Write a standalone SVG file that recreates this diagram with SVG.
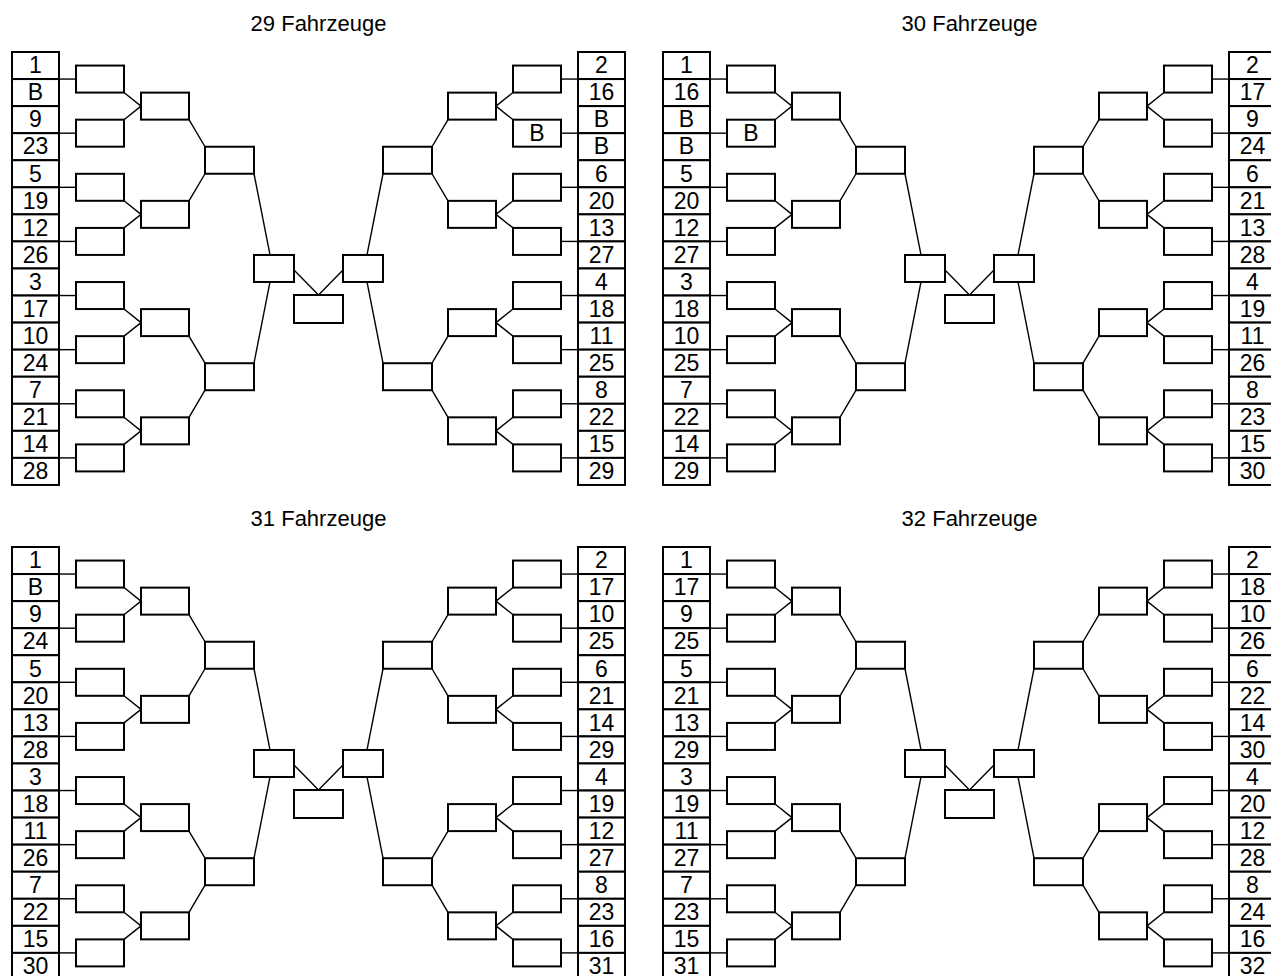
<svg xmlns="http://www.w3.org/2000/svg" width="1271" height="976" viewBox="0 0 1271 976">
<style>
.cell,.box{fill:#fff;stroke:#000;stroke-width:2}
.c{fill:none;stroke:#000;stroke-width:1.4}
text{font-family:"Liberation Sans",Arial,sans-serif;font-size:23px;text-anchor:middle;fill:#000}
.title{font-size:22px}
</style>
<rect x="0" y="0" width="1271" height="976" fill="#fff"/>

<!-- ================= Panel 29 ================= -->
<g id="panel29">
<text id="p29-title" class="title" x="318.5" y="31">29 Fahrzeuge</text>
<g id="p29-connectors">
<path class="c" d="M59 79.06H76"/><path class="c" d="M59 133.18H76"/><path class="c" d="M59 187.3H76"/><path class="c" d="M59 241.42H76"/>
<path class="c" d="M59 295.54H76"/><path class="c" d="M59 349.66H76"/><path class="c" d="M59 403.78H76"/><path class="c" d="M59 457.9H76"/>
<path class="c" d="M578 79.06H561"/><path class="c" d="M578 133.18H561"/><path class="c" d="M578 187.3H561"/><path class="c" d="M578 241.42H561"/>
<path class="c" d="M578 295.54H561"/><path class="c" d="M578 349.66H561"/><path class="c" d="M578 403.78H561"/><path class="c" d="M578 457.9H561"/>
<path class="c" d="M124 92.56L141 106.12"/><path class="c" d="M124 119.68L141 106.12"/>
<path class="c" d="M124 200.8L141 214.36"/><path class="c" d="M124 227.92L141 214.36"/>
<path class="c" d="M124 309.04L141 322.6"/><path class="c" d="M124 336.16L141 322.6"/>
<path class="c" d="M124 417.28L141 430.84"/><path class="c" d="M124 444.4L141 430.84"/>
<path class="c" d="M513 92.56L496 106.12"/><path class="c" d="M513 119.68L496 106.12"/>
<path class="c" d="M513 200.8L496 214.36"/><path class="c" d="M513 227.92L496 214.36"/>
<path class="c" d="M513 309.04L496 322.6"/><path class="c" d="M513 336.16L496 322.6"/>
<path class="c" d="M513 417.28L496 430.84"/><path class="c" d="M513 444.4L496 430.84"/>
<path class="c" d="M189 119.62L205 146.74"/><path class="c" d="M189 200.86L205 173.74"/>
<path class="c" d="M189 336.1L205 363.22"/><path class="c" d="M189 417.34L205 390.22"/>
<path class="c" d="M448 119.62L432 146.74"/><path class="c" d="M448 200.86L432 173.74"/>
<path class="c" d="M448 336.1L432 363.22"/><path class="c" d="M448 417.34L432 390.22"/>
<path class="c" d="M254 173.74L270 254.98"/><path class="c" d="M254 363.22L270 281.98"/>
<path class="c" d="M383 173.74L367 254.98"/><path class="c" d="M383 363.22L367 281.98"/>
<path class="c" d="M294 270L318.5 295"/><path class="c" d="M343 270L318.5 295"/>
</g>
<g id="p29-sL01"><rect class="cell" x="12" y="52" width="47" height="27.06"/><text x="35.5" y="73.3">1</text></g>
<g id="p29-sL02"><rect class="cell" x="12" y="79.06" width="47" height="27.06"/><text x="35.5" y="100.36">B</text></g>
<g id="p29-sL03"><rect class="cell" x="12" y="106.12" width="47" height="27.06"/><text x="35.5" y="127.42">9</text></g>
<g id="p29-sL04"><rect class="cell" x="12" y="133.18" width="47" height="27.06"/><text x="35.5" y="154.48">23</text></g>
<g id="p29-sL05"><rect class="cell" x="12" y="160.24" width="47" height="27.06"/><text x="35.5" y="181.54">5</text></g>
<g id="p29-sL06"><rect class="cell" x="12" y="187.3" width="47" height="27.06"/><text x="35.5" y="208.6">19</text></g>
<g id="p29-sL07"><rect class="cell" x="12" y="214.36" width="47" height="27.06"/><text x="35.5" y="235.66">12</text></g>
<g id="p29-sL08"><rect class="cell" x="12" y="241.42" width="47" height="27.06"/><text x="35.5" y="262.72">26</text></g>
<g id="p29-sL09"><rect class="cell" x="12" y="268.48" width="47" height="27.06"/><text x="35.5" y="289.78">3</text></g>
<g id="p29-sL10"><rect class="cell" x="12" y="295.54" width="47" height="27.06"/><text x="35.5" y="316.84">17</text></g>
<g id="p29-sL11"><rect class="cell" x="12" y="322.6" width="47" height="27.06"/><text x="35.5" y="343.9">10</text></g>
<g id="p29-sL12"><rect class="cell" x="12" y="349.66" width="47" height="27.06"/><text x="35.5" y="370.96">24</text></g>
<g id="p29-sL13"><rect class="cell" x="12" y="376.72" width="47" height="27.06"/><text x="35.5" y="398.02">7</text></g>
<g id="p29-sL14"><rect class="cell" x="12" y="403.78" width="47" height="27.06"/><text x="35.5" y="425.08">21</text></g>
<g id="p29-sL15"><rect class="cell" x="12" y="430.84" width="47" height="27.06"/><text x="35.5" y="452.14">14</text></g>
<g id="p29-sL16"><rect class="cell" x="12" y="457.9" width="47" height="27.06"/><text x="35.5" y="479.2">28</text></g>
<g id="p29-sR01"><rect class="cell" x="578" y="52" width="47" height="27.06"/><text x="601.5" y="73.3">2</text></g>
<g id="p29-sR02"><rect class="cell" x="578" y="79.06" width="47" height="27.06"/><text x="601.5" y="100.36">16</text></g>
<g id="p29-sR03"><rect class="cell" x="578" y="106.12" width="47" height="27.06"/><text x="601.5" y="127.42">B</text></g>
<g id="p29-sR04"><rect class="cell" x="578" y="133.18" width="47" height="27.06"/><text x="601.5" y="154.48">B</text></g>
<g id="p29-sR05"><rect class="cell" x="578" y="160.24" width="47" height="27.06"/><text x="601.5" y="181.54">6</text></g>
<g id="p29-sR06"><rect class="cell" x="578" y="187.3" width="47" height="27.06"/><text x="601.5" y="208.6">20</text></g>
<g id="p29-sR07"><rect class="cell" x="578" y="214.36" width="47" height="27.06"/><text x="601.5" y="235.66">13</text></g>
<g id="p29-sR08"><rect class="cell" x="578" y="241.42" width="47" height="27.06"/><text x="601.5" y="262.72">27</text></g>
<g id="p29-sR09"><rect class="cell" x="578" y="268.48" width="47" height="27.06"/><text x="601.5" y="289.78">4</text></g>
<g id="p29-sR10"><rect class="cell" x="578" y="295.54" width="47" height="27.06"/><text x="601.5" y="316.84">18</text></g>
<g id="p29-sR11"><rect class="cell" x="578" y="322.6" width="47" height="27.06"/><text x="601.5" y="343.9">11</text></g>
<g id="p29-sR12"><rect class="cell" x="578" y="349.66" width="47" height="27.06"/><text x="601.5" y="370.96">25</text></g>
<g id="p29-sR13"><rect class="cell" x="578" y="376.72" width="47" height="27.06"/><text x="601.5" y="398.02">8</text></g>
<g id="p29-sR14"><rect class="cell" x="578" y="403.78" width="47" height="27.06"/><text x="601.5" y="425.08">22</text></g>
<g id="p29-sR15"><rect class="cell" x="578" y="430.84" width="47" height="27.06"/><text x="601.5" y="452.14">15</text></g>
<g id="p29-sR16"><rect class="cell" x="578" y="457.9" width="47" height="27.06"/><text x="601.5" y="479.2">29</text></g>
<g id="p29-r1L1"><rect class="box" x="76" y="65.56" width="48" height="27"/></g>
<g id="p29-r1L2"><rect class="box" x="76" y="119.68" width="48" height="27"/></g>
<g id="p29-r1L3"><rect class="box" x="76" y="173.8" width="48" height="27"/></g>
<g id="p29-r1L4"><rect class="box" x="76" y="227.92" width="48" height="27"/></g>
<g id="p29-r1L5"><rect class="box" x="76" y="282.04" width="48" height="27"/></g>
<g id="p29-r1L6"><rect class="box" x="76" y="336.16" width="48" height="27"/></g>
<g id="p29-r1L7"><rect class="box" x="76" y="390.28" width="48" height="27"/></g>
<g id="p29-r1L8"><rect class="box" x="76" y="444.4" width="48" height="27"/></g>
<g id="p29-r1R1"><rect class="box" x="513" y="65.56" width="48" height="27"/></g>
<g id="p29-r1R2"><rect class="box" x="513" y="119.68" width="48" height="27"/><text x="537" y="141">B</text></g>
<g id="p29-r1R3"><rect class="box" x="513" y="173.8" width="48" height="27"/></g>
<g id="p29-r1R4"><rect class="box" x="513" y="227.92" width="48" height="27"/></g>
<g id="p29-r1R5"><rect class="box" x="513" y="282.04" width="48" height="27"/></g>
<g id="p29-r1R6"><rect class="box" x="513" y="336.16" width="48" height="27"/></g>
<g id="p29-r1R7"><rect class="box" x="513" y="390.28" width="48" height="27"/></g>
<g id="p29-r1R8"><rect class="box" x="513" y="444.4" width="48" height="27"/></g>
<g id="p29-r2L1"><rect class="box" x="141" y="92.62" width="48" height="27"/></g>
<g id="p29-r2L2"><rect class="box" x="141" y="200.86" width="48" height="27"/></g>
<g id="p29-r2L3"><rect class="box" x="141" y="309.1" width="48" height="27"/></g>
<g id="p29-r2L4"><rect class="box" x="141" y="417.34" width="48" height="27"/></g>
<g id="p29-r2R1"><rect class="box" x="448" y="92.62" width="48" height="27"/></g>
<g id="p29-r2R2"><rect class="box" x="448" y="200.86" width="48" height="27"/></g>
<g id="p29-r2R3"><rect class="box" x="448" y="309.1" width="48" height="27"/></g>
<g id="p29-r2R4"><rect class="box" x="448" y="417.34" width="48" height="27"/></g>
<g id="p29-r3L1"><rect class="box" x="205" y="146.74" width="49" height="27"/></g>
<g id="p29-r3L2"><rect class="box" x="205" y="363.22" width="49" height="27"/></g>
<g id="p29-r3R1"><rect class="box" x="383" y="146.74" width="49" height="27"/></g>
<g id="p29-r3R2"><rect class="box" x="383" y="363.22" width="49" height="27"/></g>
<g id="p29-semiL"><rect class="box" x="254" y="254.98" width="40" height="27"/></g>
<g id="p29-semiR"><rect class="box" x="343" y="254.98" width="40" height="27"/></g>
<g id="p29-final"><rect class="box" x="294" y="295" width="49" height="28"/></g>
</g>

<!-- ================= Panel 30 ================= -->
<g id="panel30" transform="translate(651,0)">
<text id="p30-title" class="title" x="318.5" y="31">30 Fahrzeuge</text>
<g id="p30-connectors">
<path class="c" d="M59 79.06H76"/><path class="c" d="M59 133.18H76"/><path class="c" d="M59 187.3H76"/><path class="c" d="M59 241.42H76"/>
<path class="c" d="M59 295.54H76"/><path class="c" d="M59 349.66H76"/><path class="c" d="M59 403.78H76"/><path class="c" d="M59 457.9H76"/>
<path class="c" d="M578 79.06H561"/><path class="c" d="M578 133.18H561"/><path class="c" d="M578 187.3H561"/><path class="c" d="M578 241.42H561"/>
<path class="c" d="M578 295.54H561"/><path class="c" d="M578 349.66H561"/><path class="c" d="M578 403.78H561"/><path class="c" d="M578 457.9H561"/>
<path class="c" d="M124 92.56L141 106.12"/><path class="c" d="M124 119.68L141 106.12"/>
<path class="c" d="M124 200.8L141 214.36"/><path class="c" d="M124 227.92L141 214.36"/>
<path class="c" d="M124 309.04L141 322.6"/><path class="c" d="M124 336.16L141 322.6"/>
<path class="c" d="M124 417.28L141 430.84"/><path class="c" d="M124 444.4L141 430.84"/>
<path class="c" d="M513 92.56L496 106.12"/><path class="c" d="M513 119.68L496 106.12"/>
<path class="c" d="M513 200.8L496 214.36"/><path class="c" d="M513 227.92L496 214.36"/>
<path class="c" d="M513 309.04L496 322.6"/><path class="c" d="M513 336.16L496 322.6"/>
<path class="c" d="M513 417.28L496 430.84"/><path class="c" d="M513 444.4L496 430.84"/>
<path class="c" d="M189 119.62L205 146.74"/><path class="c" d="M189 200.86L205 173.74"/>
<path class="c" d="M189 336.1L205 363.22"/><path class="c" d="M189 417.34L205 390.22"/>
<path class="c" d="M448 119.62L432 146.74"/><path class="c" d="M448 200.86L432 173.74"/>
<path class="c" d="M448 336.1L432 363.22"/><path class="c" d="M448 417.34L432 390.22"/>
<path class="c" d="M254 173.74L270 254.98"/><path class="c" d="M254 363.22L270 281.98"/>
<path class="c" d="M383 173.74L367 254.98"/><path class="c" d="M383 363.22L367 281.98"/>
<path class="c" d="M294 270L318.5 295"/><path class="c" d="M343 270L318.5 295"/>
</g>
<g id="p30-sL01"><rect class="cell" x="12" y="52" width="47" height="27.06"/><text x="35.5" y="73.3">1</text></g>
<g id="p30-sL02"><rect class="cell" x="12" y="79.06" width="47" height="27.06"/><text x="35.5" y="100.36">16</text></g>
<g id="p30-sL03"><rect class="cell" x="12" y="106.12" width="47" height="27.06"/><text x="35.5" y="127.42">B</text></g>
<g id="p30-sL04"><rect class="cell" x="12" y="133.18" width="47" height="27.06"/><text x="35.5" y="154.48">B</text></g>
<g id="p30-sL05"><rect class="cell" x="12" y="160.24" width="47" height="27.06"/><text x="35.5" y="181.54">5</text></g>
<g id="p30-sL06"><rect class="cell" x="12" y="187.3" width="47" height="27.06"/><text x="35.5" y="208.6">20</text></g>
<g id="p30-sL07"><rect class="cell" x="12" y="214.36" width="47" height="27.06"/><text x="35.5" y="235.66">12</text></g>
<g id="p30-sL08"><rect class="cell" x="12" y="241.42" width="47" height="27.06"/><text x="35.5" y="262.72">27</text></g>
<g id="p30-sL09"><rect class="cell" x="12" y="268.48" width="47" height="27.06"/><text x="35.5" y="289.78">3</text></g>
<g id="p30-sL10"><rect class="cell" x="12" y="295.54" width="47" height="27.06"/><text x="35.5" y="316.84">18</text></g>
<g id="p30-sL11"><rect class="cell" x="12" y="322.6" width="47" height="27.06"/><text x="35.5" y="343.9">10</text></g>
<g id="p30-sL12"><rect class="cell" x="12" y="349.66" width="47" height="27.06"/><text x="35.5" y="370.96">25</text></g>
<g id="p30-sL13"><rect class="cell" x="12" y="376.72" width="47" height="27.06"/><text x="35.5" y="398.02">7</text></g>
<g id="p30-sL14"><rect class="cell" x="12" y="403.78" width="47" height="27.06"/><text x="35.5" y="425.08">22</text></g>
<g id="p30-sL15"><rect class="cell" x="12" y="430.84" width="47" height="27.06"/><text x="35.5" y="452.14">14</text></g>
<g id="p30-sL16"><rect class="cell" x="12" y="457.9" width="47" height="27.06"/><text x="35.5" y="479.2">29</text></g>
<g id="p30-sR01"><rect class="cell" x="578" y="52" width="47" height="27.06"/><text x="601.5" y="73.3">2</text></g>
<g id="p30-sR02"><rect class="cell" x="578" y="79.06" width="47" height="27.06"/><text x="601.5" y="100.36">17</text></g>
<g id="p30-sR03"><rect class="cell" x="578" y="106.12" width="47" height="27.06"/><text x="601.5" y="127.42">9</text></g>
<g id="p30-sR04"><rect class="cell" x="578" y="133.18" width="47" height="27.06"/><text x="601.5" y="154.48">24</text></g>
<g id="p30-sR05"><rect class="cell" x="578" y="160.24" width="47" height="27.06"/><text x="601.5" y="181.54">6</text></g>
<g id="p30-sR06"><rect class="cell" x="578" y="187.3" width="47" height="27.06"/><text x="601.5" y="208.6">21</text></g>
<g id="p30-sR07"><rect class="cell" x="578" y="214.36" width="47" height="27.06"/><text x="601.5" y="235.66">13</text></g>
<g id="p30-sR08"><rect class="cell" x="578" y="241.42" width="47" height="27.06"/><text x="601.5" y="262.72">28</text></g>
<g id="p30-sR09"><rect class="cell" x="578" y="268.48" width="47" height="27.06"/><text x="601.5" y="289.78">4</text></g>
<g id="p30-sR10"><rect class="cell" x="578" y="295.54" width="47" height="27.06"/><text x="601.5" y="316.84">19</text></g>
<g id="p30-sR11"><rect class="cell" x="578" y="322.6" width="47" height="27.06"/><text x="601.5" y="343.9">11</text></g>
<g id="p30-sR12"><rect class="cell" x="578" y="349.66" width="47" height="27.06"/><text x="601.5" y="370.96">26</text></g>
<g id="p30-sR13"><rect class="cell" x="578" y="376.72" width="47" height="27.06"/><text x="601.5" y="398.02">8</text></g>
<g id="p30-sR14"><rect class="cell" x="578" y="403.78" width="47" height="27.06"/><text x="601.5" y="425.08">23</text></g>
<g id="p30-sR15"><rect class="cell" x="578" y="430.84" width="47" height="27.06"/><text x="601.5" y="452.14">15</text></g>
<g id="p30-sR16"><rect class="cell" x="578" y="457.9" width="47" height="27.06"/><text x="601.5" y="479.2">30</text></g>
<g id="p30-r1L1"><rect class="box" x="76" y="65.56" width="48" height="27"/></g>
<g id="p30-r1L2"><rect class="box" x="76" y="119.68" width="48" height="27"/><text x="100" y="141">B</text></g>
<g id="p30-r1L3"><rect class="box" x="76" y="173.8" width="48" height="27"/></g>
<g id="p30-r1L4"><rect class="box" x="76" y="227.92" width="48" height="27"/></g>
<g id="p30-r1L5"><rect class="box" x="76" y="282.04" width="48" height="27"/></g>
<g id="p30-r1L6"><rect class="box" x="76" y="336.16" width="48" height="27"/></g>
<g id="p30-r1L7"><rect class="box" x="76" y="390.28" width="48" height="27"/></g>
<g id="p30-r1L8"><rect class="box" x="76" y="444.4" width="48" height="27"/></g>
<g id="p30-r1R1"><rect class="box" x="513" y="65.56" width="48" height="27"/></g>
<g id="p30-r1R2"><rect class="box" x="513" y="119.68" width="48" height="27"/></g>
<g id="p30-r1R3"><rect class="box" x="513" y="173.8" width="48" height="27"/></g>
<g id="p30-r1R4"><rect class="box" x="513" y="227.92" width="48" height="27"/></g>
<g id="p30-r1R5"><rect class="box" x="513" y="282.04" width="48" height="27"/></g>
<g id="p30-r1R6"><rect class="box" x="513" y="336.16" width="48" height="27"/></g>
<g id="p30-r1R7"><rect class="box" x="513" y="390.28" width="48" height="27"/></g>
<g id="p30-r1R8"><rect class="box" x="513" y="444.4" width="48" height="27"/></g>
<g id="p30-r2L1"><rect class="box" x="141" y="92.62" width="48" height="27"/></g>
<g id="p30-r2L2"><rect class="box" x="141" y="200.86" width="48" height="27"/></g>
<g id="p30-r2L3"><rect class="box" x="141" y="309.1" width="48" height="27"/></g>
<g id="p30-r2L4"><rect class="box" x="141" y="417.34" width="48" height="27"/></g>
<g id="p30-r2R1"><rect class="box" x="448" y="92.62" width="48" height="27"/></g>
<g id="p30-r2R2"><rect class="box" x="448" y="200.86" width="48" height="27"/></g>
<g id="p30-r2R3"><rect class="box" x="448" y="309.1" width="48" height="27"/></g>
<g id="p30-r2R4"><rect class="box" x="448" y="417.34" width="48" height="27"/></g>
<g id="p30-r3L1"><rect class="box" x="205" y="146.74" width="49" height="27"/></g>
<g id="p30-r3L2"><rect class="box" x="205" y="363.22" width="49" height="27"/></g>
<g id="p30-r3R1"><rect class="box" x="383" y="146.74" width="49" height="27"/></g>
<g id="p30-r3R2"><rect class="box" x="383" y="363.22" width="49" height="27"/></g>
<g id="p30-semiL"><rect class="box" x="254" y="254.98" width="40" height="27"/></g>
<g id="p30-semiR"><rect class="box" x="343" y="254.98" width="40" height="27"/></g>
<g id="p30-final"><rect class="box" x="294" y="295" width="49" height="28"/></g>
</g>

<!-- ================= Panel 31 ================= -->
<g id="panel31" transform="translate(0,495)">
<text id="p31-title" class="title" x="318.5" y="31">31 Fahrzeuge</text>
<g id="p31-connectors">
<path class="c" d="M59 79.06H76"/><path class="c" d="M59 133.18H76"/><path class="c" d="M59 187.3H76"/><path class="c" d="M59 241.42H76"/>
<path class="c" d="M59 295.54H76"/><path class="c" d="M59 349.66H76"/><path class="c" d="M59 403.78H76"/><path class="c" d="M59 457.9H76"/>
<path class="c" d="M578 79.06H561"/><path class="c" d="M578 133.18H561"/><path class="c" d="M578 187.3H561"/><path class="c" d="M578 241.42H561"/>
<path class="c" d="M578 295.54H561"/><path class="c" d="M578 349.66H561"/><path class="c" d="M578 403.78H561"/><path class="c" d="M578 457.9H561"/>
<path class="c" d="M124 92.56L141 106.12"/><path class="c" d="M124 119.68L141 106.12"/>
<path class="c" d="M124 200.8L141 214.36"/><path class="c" d="M124 227.92L141 214.36"/>
<path class="c" d="M124 309.04L141 322.6"/><path class="c" d="M124 336.16L141 322.6"/>
<path class="c" d="M124 417.28L141 430.84"/><path class="c" d="M124 444.4L141 430.84"/>
<path class="c" d="M513 92.56L496 106.12"/><path class="c" d="M513 119.68L496 106.12"/>
<path class="c" d="M513 200.8L496 214.36"/><path class="c" d="M513 227.92L496 214.36"/>
<path class="c" d="M513 309.04L496 322.6"/><path class="c" d="M513 336.16L496 322.6"/>
<path class="c" d="M513 417.28L496 430.84"/><path class="c" d="M513 444.4L496 430.84"/>
<path class="c" d="M189 119.62L205 146.74"/><path class="c" d="M189 200.86L205 173.74"/>
<path class="c" d="M189 336.1L205 363.22"/><path class="c" d="M189 417.34L205 390.22"/>
<path class="c" d="M448 119.62L432 146.74"/><path class="c" d="M448 200.86L432 173.74"/>
<path class="c" d="M448 336.1L432 363.22"/><path class="c" d="M448 417.34L432 390.22"/>
<path class="c" d="M254 173.74L270 254.98"/><path class="c" d="M254 363.22L270 281.98"/>
<path class="c" d="M383 173.74L367 254.98"/><path class="c" d="M383 363.22L367 281.98"/>
<path class="c" d="M294 270L318.5 295"/><path class="c" d="M343 270L318.5 295"/>
</g>
<g id="p31-sL01"><rect class="cell" x="12" y="52" width="47" height="27.06"/><text x="35.5" y="73.3">1</text></g>
<g id="p31-sL02"><rect class="cell" x="12" y="79.06" width="47" height="27.06"/><text x="35.5" y="100.36">B</text></g>
<g id="p31-sL03"><rect class="cell" x="12" y="106.12" width="47" height="27.06"/><text x="35.5" y="127.42">9</text></g>
<g id="p31-sL04"><rect class="cell" x="12" y="133.18" width="47" height="27.06"/><text x="35.5" y="154.48">24</text></g>
<g id="p31-sL05"><rect class="cell" x="12" y="160.24" width="47" height="27.06"/><text x="35.5" y="181.54">5</text></g>
<g id="p31-sL06"><rect class="cell" x="12" y="187.3" width="47" height="27.06"/><text x="35.5" y="208.6">20</text></g>
<g id="p31-sL07"><rect class="cell" x="12" y="214.36" width="47" height="27.06"/><text x="35.5" y="235.66">13</text></g>
<g id="p31-sL08"><rect class="cell" x="12" y="241.42" width="47" height="27.06"/><text x="35.5" y="262.72">28</text></g>
<g id="p31-sL09"><rect class="cell" x="12" y="268.48" width="47" height="27.06"/><text x="35.5" y="289.78">3</text></g>
<g id="p31-sL10"><rect class="cell" x="12" y="295.54" width="47" height="27.06"/><text x="35.5" y="316.84">18</text></g>
<g id="p31-sL11"><rect class="cell" x="12" y="322.6" width="47" height="27.06"/><text x="35.5" y="343.9">11</text></g>
<g id="p31-sL12"><rect class="cell" x="12" y="349.66" width="47" height="27.06"/><text x="35.5" y="370.96">26</text></g>
<g id="p31-sL13"><rect class="cell" x="12" y="376.72" width="47" height="27.06"/><text x="35.5" y="398.02">7</text></g>
<g id="p31-sL14"><rect class="cell" x="12" y="403.78" width="47" height="27.06"/><text x="35.5" y="425.08">22</text></g>
<g id="p31-sL15"><rect class="cell" x="12" y="430.84" width="47" height="27.06"/><text x="35.5" y="452.14">15</text></g>
<g id="p31-sL16"><rect class="cell" x="12" y="457.9" width="47" height="27.06"/><text x="35.5" y="479.2">30</text></g>
<g id="p31-sR01"><rect class="cell" x="578" y="52" width="47" height="27.06"/><text x="601.5" y="73.3">2</text></g>
<g id="p31-sR02"><rect class="cell" x="578" y="79.06" width="47" height="27.06"/><text x="601.5" y="100.36">17</text></g>
<g id="p31-sR03"><rect class="cell" x="578" y="106.12" width="47" height="27.06"/><text x="601.5" y="127.42">10</text></g>
<g id="p31-sR04"><rect class="cell" x="578" y="133.18" width="47" height="27.06"/><text x="601.5" y="154.48">25</text></g>
<g id="p31-sR05"><rect class="cell" x="578" y="160.24" width="47" height="27.06"/><text x="601.5" y="181.54">6</text></g>
<g id="p31-sR06"><rect class="cell" x="578" y="187.3" width="47" height="27.06"/><text x="601.5" y="208.6">21</text></g>
<g id="p31-sR07"><rect class="cell" x="578" y="214.36" width="47" height="27.06"/><text x="601.5" y="235.66">14</text></g>
<g id="p31-sR08"><rect class="cell" x="578" y="241.42" width="47" height="27.06"/><text x="601.5" y="262.72">29</text></g>
<g id="p31-sR09"><rect class="cell" x="578" y="268.48" width="47" height="27.06"/><text x="601.5" y="289.78">4</text></g>
<g id="p31-sR10"><rect class="cell" x="578" y="295.54" width="47" height="27.06"/><text x="601.5" y="316.84">19</text></g>
<g id="p31-sR11"><rect class="cell" x="578" y="322.6" width="47" height="27.06"/><text x="601.5" y="343.9">12</text></g>
<g id="p31-sR12"><rect class="cell" x="578" y="349.66" width="47" height="27.06"/><text x="601.5" y="370.96">27</text></g>
<g id="p31-sR13"><rect class="cell" x="578" y="376.72" width="47" height="27.06"/><text x="601.5" y="398.02">8</text></g>
<g id="p31-sR14"><rect class="cell" x="578" y="403.78" width="47" height="27.06"/><text x="601.5" y="425.08">23</text></g>
<g id="p31-sR15"><rect class="cell" x="578" y="430.84" width="47" height="27.06"/><text x="601.5" y="452.14">16</text></g>
<g id="p31-sR16"><rect class="cell" x="578" y="457.9" width="47" height="27.06"/><text x="601.5" y="479.2">31</text></g>
<g id="p31-r1L1"><rect class="box" x="76" y="65.56" width="48" height="27"/></g>
<g id="p31-r1L2"><rect class="box" x="76" y="119.68" width="48" height="27"/></g>
<g id="p31-r1L3"><rect class="box" x="76" y="173.8" width="48" height="27"/></g>
<g id="p31-r1L4"><rect class="box" x="76" y="227.92" width="48" height="27"/></g>
<g id="p31-r1L5"><rect class="box" x="76" y="282.04" width="48" height="27"/></g>
<g id="p31-r1L6"><rect class="box" x="76" y="336.16" width="48" height="27"/></g>
<g id="p31-r1L7"><rect class="box" x="76" y="390.28" width="48" height="27"/></g>
<g id="p31-r1L8"><rect class="box" x="76" y="444.4" width="48" height="27"/></g>
<g id="p31-r1R1"><rect class="box" x="513" y="65.56" width="48" height="27"/></g>
<g id="p31-r1R2"><rect class="box" x="513" y="119.68" width="48" height="27"/></g>
<g id="p31-r1R3"><rect class="box" x="513" y="173.8" width="48" height="27"/></g>
<g id="p31-r1R4"><rect class="box" x="513" y="227.92" width="48" height="27"/></g>
<g id="p31-r1R5"><rect class="box" x="513" y="282.04" width="48" height="27"/></g>
<g id="p31-r1R6"><rect class="box" x="513" y="336.16" width="48" height="27"/></g>
<g id="p31-r1R7"><rect class="box" x="513" y="390.28" width="48" height="27"/></g>
<g id="p31-r1R8"><rect class="box" x="513" y="444.4" width="48" height="27"/></g>
<g id="p31-r2L1"><rect class="box" x="141" y="92.62" width="48" height="27"/></g>
<g id="p31-r2L2"><rect class="box" x="141" y="200.86" width="48" height="27"/></g>
<g id="p31-r2L3"><rect class="box" x="141" y="309.1" width="48" height="27"/></g>
<g id="p31-r2L4"><rect class="box" x="141" y="417.34" width="48" height="27"/></g>
<g id="p31-r2R1"><rect class="box" x="448" y="92.62" width="48" height="27"/></g>
<g id="p31-r2R2"><rect class="box" x="448" y="200.86" width="48" height="27"/></g>
<g id="p31-r2R3"><rect class="box" x="448" y="309.1" width="48" height="27"/></g>
<g id="p31-r2R4"><rect class="box" x="448" y="417.34" width="48" height="27"/></g>
<g id="p31-r3L1"><rect class="box" x="205" y="146.74" width="49" height="27"/></g>
<g id="p31-r3L2"><rect class="box" x="205" y="363.22" width="49" height="27"/></g>
<g id="p31-r3R1"><rect class="box" x="383" y="146.74" width="49" height="27"/></g>
<g id="p31-r3R2"><rect class="box" x="383" y="363.22" width="49" height="27"/></g>
<g id="p31-semiL"><rect class="box" x="254" y="254.98" width="40" height="27"/></g>
<g id="p31-semiR"><rect class="box" x="343" y="254.98" width="40" height="27"/></g>
<g id="p31-final"><rect class="box" x="294" y="295" width="49" height="28"/></g>
</g>

<!-- ================= Panel 32 ================= -->
<g id="panel32" transform="translate(651,495)">
<text id="p32-title" class="title" x="318.5" y="31">32 Fahrzeuge</text>
<g id="p32-connectors">
<path class="c" d="M59 79.06H76"/><path class="c" d="M59 133.18H76"/><path class="c" d="M59 187.3H76"/><path class="c" d="M59 241.42H76"/>
<path class="c" d="M59 295.54H76"/><path class="c" d="M59 349.66H76"/><path class="c" d="M59 403.78H76"/><path class="c" d="M59 457.9H76"/>
<path class="c" d="M578 79.06H561"/><path class="c" d="M578 133.18H561"/><path class="c" d="M578 187.3H561"/><path class="c" d="M578 241.42H561"/>
<path class="c" d="M578 295.54H561"/><path class="c" d="M578 349.66H561"/><path class="c" d="M578 403.78H561"/><path class="c" d="M578 457.9H561"/>
<path class="c" d="M124 92.56L141 106.12"/><path class="c" d="M124 119.68L141 106.12"/>
<path class="c" d="M124 200.8L141 214.36"/><path class="c" d="M124 227.92L141 214.36"/>
<path class="c" d="M124 309.04L141 322.6"/><path class="c" d="M124 336.16L141 322.6"/>
<path class="c" d="M124 417.28L141 430.84"/><path class="c" d="M124 444.4L141 430.84"/>
<path class="c" d="M513 92.56L496 106.12"/><path class="c" d="M513 119.68L496 106.12"/>
<path class="c" d="M513 200.8L496 214.36"/><path class="c" d="M513 227.92L496 214.36"/>
<path class="c" d="M513 309.04L496 322.6"/><path class="c" d="M513 336.16L496 322.6"/>
<path class="c" d="M513 417.28L496 430.84"/><path class="c" d="M513 444.4L496 430.84"/>
<path class="c" d="M189 119.62L205 146.74"/><path class="c" d="M189 200.86L205 173.74"/>
<path class="c" d="M189 336.1L205 363.22"/><path class="c" d="M189 417.34L205 390.22"/>
<path class="c" d="M448 119.62L432 146.74"/><path class="c" d="M448 200.86L432 173.74"/>
<path class="c" d="M448 336.1L432 363.22"/><path class="c" d="M448 417.34L432 390.22"/>
<path class="c" d="M254 173.74L270 254.98"/><path class="c" d="M254 363.22L270 281.98"/>
<path class="c" d="M383 173.74L367 254.98"/><path class="c" d="M383 363.22L367 281.98"/>
<path class="c" d="M294 270L318.5 295"/><path class="c" d="M343 270L318.5 295"/>
</g>
<g id="p32-sL01"><rect class="cell" x="12" y="52" width="47" height="27.06"/><text x="35.5" y="73.3">1</text></g>
<g id="p32-sL02"><rect class="cell" x="12" y="79.06" width="47" height="27.06"/><text x="35.5" y="100.36">17</text></g>
<g id="p32-sL03"><rect class="cell" x="12" y="106.12" width="47" height="27.06"/><text x="35.5" y="127.42">9</text></g>
<g id="p32-sL04"><rect class="cell" x="12" y="133.18" width="47" height="27.06"/><text x="35.5" y="154.48">25</text></g>
<g id="p32-sL05"><rect class="cell" x="12" y="160.24" width="47" height="27.06"/><text x="35.5" y="181.54">5</text></g>
<g id="p32-sL06"><rect class="cell" x="12" y="187.3" width="47" height="27.06"/><text x="35.5" y="208.6">21</text></g>
<g id="p32-sL07"><rect class="cell" x="12" y="214.36" width="47" height="27.06"/><text x="35.5" y="235.66">13</text></g>
<g id="p32-sL08"><rect class="cell" x="12" y="241.42" width="47" height="27.06"/><text x="35.5" y="262.72">29</text></g>
<g id="p32-sL09"><rect class="cell" x="12" y="268.48" width="47" height="27.06"/><text x="35.5" y="289.78">3</text></g>
<g id="p32-sL10"><rect class="cell" x="12" y="295.54" width="47" height="27.06"/><text x="35.5" y="316.84">19</text></g>
<g id="p32-sL11"><rect class="cell" x="12" y="322.6" width="47" height="27.06"/><text x="35.5" y="343.9">11</text></g>
<g id="p32-sL12"><rect class="cell" x="12" y="349.66" width="47" height="27.06"/><text x="35.5" y="370.96">27</text></g>
<g id="p32-sL13"><rect class="cell" x="12" y="376.72" width="47" height="27.06"/><text x="35.5" y="398.02">7</text></g>
<g id="p32-sL14"><rect class="cell" x="12" y="403.78" width="47" height="27.06"/><text x="35.5" y="425.08">23</text></g>
<g id="p32-sL15"><rect class="cell" x="12" y="430.84" width="47" height="27.06"/><text x="35.5" y="452.14">15</text></g>
<g id="p32-sL16"><rect class="cell" x="12" y="457.9" width="47" height="27.06"/><text x="35.5" y="479.2">31</text></g>
<g id="p32-sR01"><rect class="cell" x="578" y="52" width="47" height="27.06"/><text x="601.5" y="73.3">2</text></g>
<g id="p32-sR02"><rect class="cell" x="578" y="79.06" width="47" height="27.06"/><text x="601.5" y="100.36">18</text></g>
<g id="p32-sR03"><rect class="cell" x="578" y="106.12" width="47" height="27.06"/><text x="601.5" y="127.42">10</text></g>
<g id="p32-sR04"><rect class="cell" x="578" y="133.18" width="47" height="27.06"/><text x="601.5" y="154.48">26</text></g>
<g id="p32-sR05"><rect class="cell" x="578" y="160.24" width="47" height="27.06"/><text x="601.5" y="181.54">6</text></g>
<g id="p32-sR06"><rect class="cell" x="578" y="187.3" width="47" height="27.06"/><text x="601.5" y="208.6">22</text></g>
<g id="p32-sR07"><rect class="cell" x="578" y="214.36" width="47" height="27.06"/><text x="601.5" y="235.66">14</text></g>
<g id="p32-sR08"><rect class="cell" x="578" y="241.42" width="47" height="27.06"/><text x="601.5" y="262.72">30</text></g>
<g id="p32-sR09"><rect class="cell" x="578" y="268.48" width="47" height="27.06"/><text x="601.5" y="289.78">4</text></g>
<g id="p32-sR10"><rect class="cell" x="578" y="295.54" width="47" height="27.06"/><text x="601.5" y="316.84">20</text></g>
<g id="p32-sR11"><rect class="cell" x="578" y="322.6" width="47" height="27.06"/><text x="601.5" y="343.9">12</text></g>
<g id="p32-sR12"><rect class="cell" x="578" y="349.66" width="47" height="27.06"/><text x="601.5" y="370.96">28</text></g>
<g id="p32-sR13"><rect class="cell" x="578" y="376.72" width="47" height="27.06"/><text x="601.5" y="398.02">8</text></g>
<g id="p32-sR14"><rect class="cell" x="578" y="403.78" width="47" height="27.06"/><text x="601.5" y="425.08">24</text></g>
<g id="p32-sR15"><rect class="cell" x="578" y="430.84" width="47" height="27.06"/><text x="601.5" y="452.14">16</text></g>
<g id="p32-sR16"><rect class="cell" x="578" y="457.9" width="47" height="27.06"/><text x="601.5" y="479.2">32</text></g>
<g id="p32-r1L1"><rect class="box" x="76" y="65.56" width="48" height="27"/></g>
<g id="p32-r1L2"><rect class="box" x="76" y="119.68" width="48" height="27"/></g>
<g id="p32-r1L3"><rect class="box" x="76" y="173.8" width="48" height="27"/></g>
<g id="p32-r1L4"><rect class="box" x="76" y="227.92" width="48" height="27"/></g>
<g id="p32-r1L5"><rect class="box" x="76" y="282.04" width="48" height="27"/></g>
<g id="p32-r1L6"><rect class="box" x="76" y="336.16" width="48" height="27"/></g>
<g id="p32-r1L7"><rect class="box" x="76" y="390.28" width="48" height="27"/></g>
<g id="p32-r1L8"><rect class="box" x="76" y="444.4" width="48" height="27"/></g>
<g id="p32-r1R1"><rect class="box" x="513" y="65.56" width="48" height="27"/></g>
<g id="p32-r1R2"><rect class="box" x="513" y="119.68" width="48" height="27"/></g>
<g id="p32-r1R3"><rect class="box" x="513" y="173.8" width="48" height="27"/></g>
<g id="p32-r1R4"><rect class="box" x="513" y="227.92" width="48" height="27"/></g>
<g id="p32-r1R5"><rect class="box" x="513" y="282.04" width="48" height="27"/></g>
<g id="p32-r1R6"><rect class="box" x="513" y="336.16" width="48" height="27"/></g>
<g id="p32-r1R7"><rect class="box" x="513" y="390.28" width="48" height="27"/></g>
<g id="p32-r1R8"><rect class="box" x="513" y="444.4" width="48" height="27"/></g>
<g id="p32-r2L1"><rect class="box" x="141" y="92.62" width="48" height="27"/></g>
<g id="p32-r2L2"><rect class="box" x="141" y="200.86" width="48" height="27"/></g>
<g id="p32-r2L3"><rect class="box" x="141" y="309.1" width="48" height="27"/></g>
<g id="p32-r2L4"><rect class="box" x="141" y="417.34" width="48" height="27"/></g>
<g id="p32-r2R1"><rect class="box" x="448" y="92.62" width="48" height="27"/></g>
<g id="p32-r2R2"><rect class="box" x="448" y="200.86" width="48" height="27"/></g>
<g id="p32-r2R3"><rect class="box" x="448" y="309.1" width="48" height="27"/></g>
<g id="p32-r2R4"><rect class="box" x="448" y="417.34" width="48" height="27"/></g>
<g id="p32-r3L1"><rect class="box" x="205" y="146.74" width="49" height="27"/></g>
<g id="p32-r3L2"><rect class="box" x="205" y="363.22" width="49" height="27"/></g>
<g id="p32-r3R1"><rect class="box" x="383" y="146.74" width="49" height="27"/></g>
<g id="p32-r3R2"><rect class="box" x="383" y="363.22" width="49" height="27"/></g>
<g id="p32-semiL"><rect class="box" x="254" y="254.98" width="40" height="27"/></g>
<g id="p32-semiR"><rect class="box" x="343" y="254.98" width="40" height="27"/></g>
<g id="p32-final"><rect class="box" x="294" y="295" width="49" height="28"/></g>
</g>
</svg>
